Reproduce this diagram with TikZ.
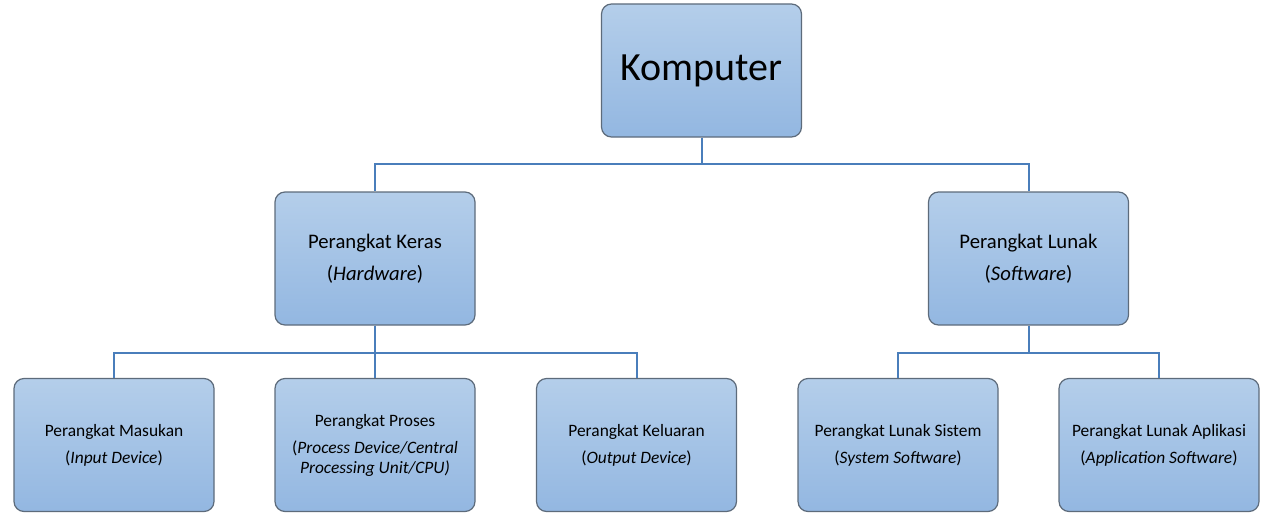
\documentclass[tikz,border=0pt]{standalone}
\usepackage{fontspec}
\setmainfont{Carlito}
\usetikzlibrary{positioning}
\definecolor{boxtop}{HTML}{B4CEEA}
\definecolor{boxbot}{HTML}{93B7E1}
\definecolor{boxline}{HTML}{5D6B7B}
\definecolor{linkblue}{HTML}{4A7EBB}
\begin{document}
\begin{tikzpicture}[x=1pt,y=-1pt,
    box/.style={draw=boxline,line width=1.2pt,rounded corners=10pt,top color=boxtop,bottom color=boxbot,
        minimum width=200pt,minimum height=133pt,align=center,inner sep=2pt},
    mid/.style={box,font=\fontsize{20.7}{25}\selectfont},
    low/.style={box,font=\fontsize{17.4}{20}\selectfont},
    link/.style={draw=linkblue,line width=2pt}]
    \useasboundingbox (0,0) rectangle (1273,519);
    % top level
    \node[box,font=\fontsize{40}{48}\selectfont] (komp) at (701.5,70.5) {Komputer};
    % second level
    \node[mid] (hw) at (375,258.5) {Perangkat Keras\\[7pt](\textit{Hardware})};
    \node[mid] (sw) at (1028.5,258.5) {Perangkat Lunak\\[7pt](\textit{Software})};
    % third level
    \node[low] (in) at (114,445) {Perangkat Masukan\\[7pt](\textit{Input Device})};
    \node[low] (proc) at (375,445) {Perangkat Proses\\[7pt](\textit{Process Device/Central}\\\textit{Processing Unit/CPU)}};
    \node[low] (out) at (636.5,445) {Perangkat Keluaran\\[7pt](\textit{Output Device})};
    \node[low] (sys) at (898,445) {Perangkat Lunak Sistem\\[7pt](\textit{System Software})};
    \node[low] (app) at (1159,445) {Perangkat Lunak Aplikasi\\[7pt](\textit{Application Software})};
    % connectors
    \draw[link] (komp.south) -- ++(0,26) -| (hw.north);
    \draw[link] (komp.south) -- ++(0,26) -| (sw.north);
    \draw[link] (hw.south) -- ++(0,27) -| (in.north);
    \draw[link] (hw.south) -- (proc.north);
    \draw[link] (hw.south) -- ++(0,27) -| (out.north);
    \draw[link] (sw.south) -- ++(0,27) -| (sys.north);
    \draw[link] (sw.south) -- ++(0,27) -| (app.north);
\end{tikzpicture}
\end{document}
